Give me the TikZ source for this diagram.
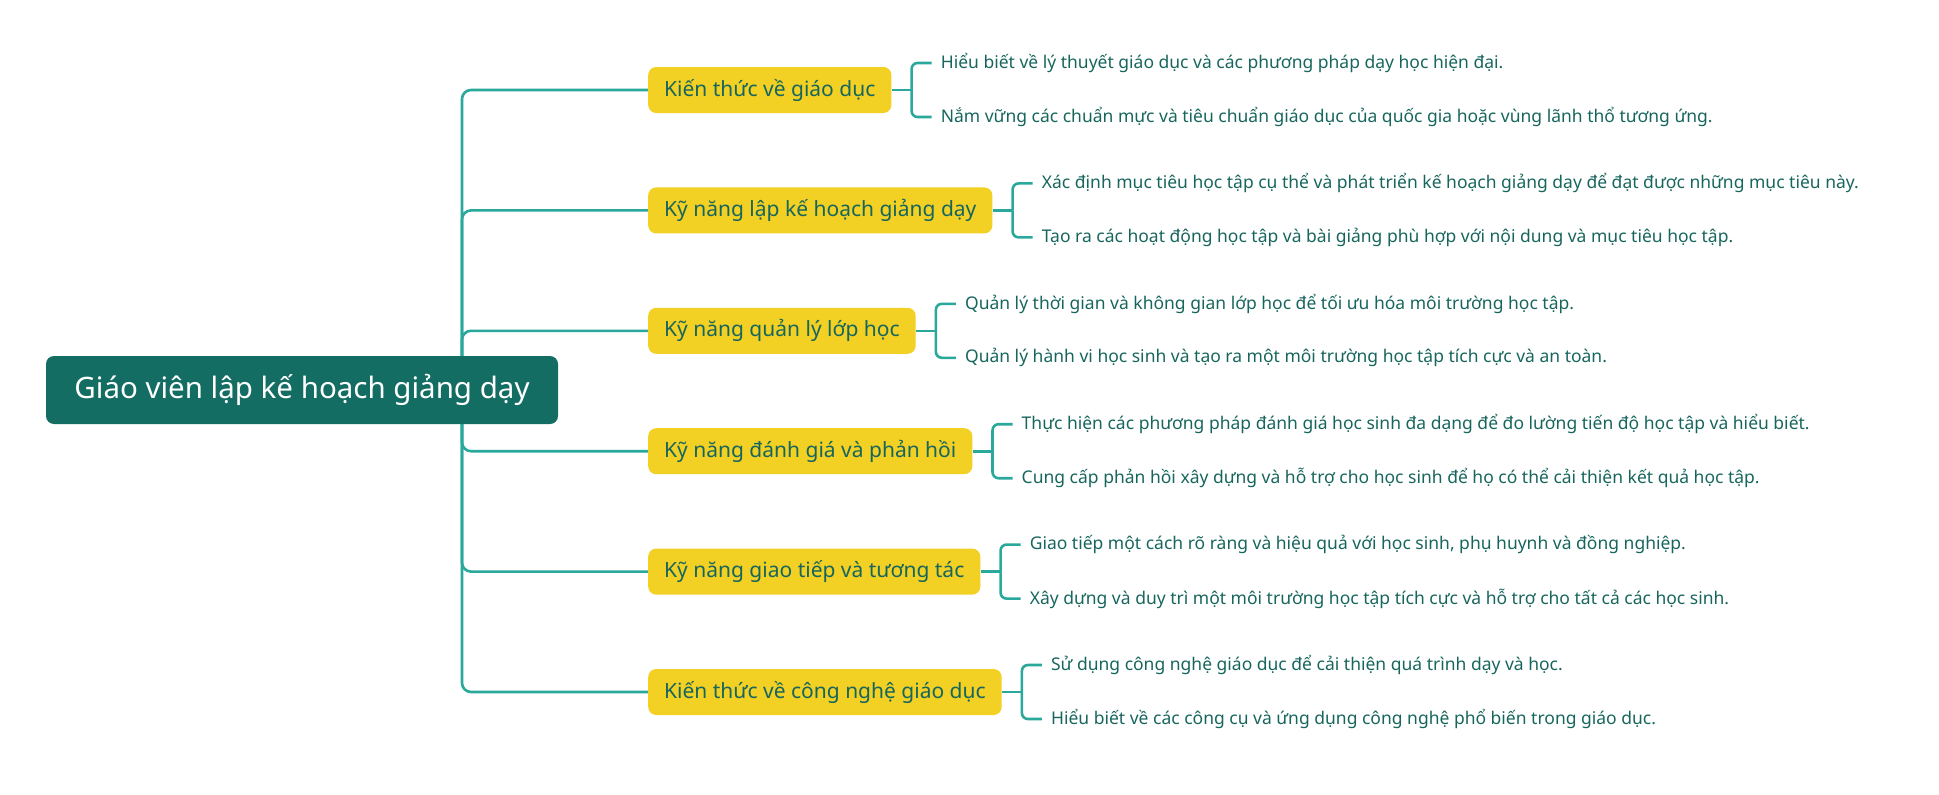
\documentclass[tikz,border=0pt]{standalone}
\usepackage{fontspec}
\setmainfont{Noto Sans}
\usepackage{xcolor}
\usetikzlibrary{positioning,backgrounds}

\definecolor{rootgreen}{HTML}{136D62}
\definecolor{boxyellow}{HTML}{F2D024}
\definecolor{linkteal}{HTML}{2BA89C}
\definecolor{inkteal}{HTML}{17665D}

\tikzset{
  rootbox/.style={draw=none, fill=rootgreen, rounded corners=8pt, text=white,
    minimum width=512pt, minimum height=68pt, font=\fontsize{29.5}{34}\selectfont},
  topicbox/.style={draw=none, fill=boxyellow, rounded corners=8pt, text=inkteal,
    minimum height=46pt, inner xsep=16pt, font=\fontsize{21}{25}\selectfont},
  leaf/.style={inner xsep=9pt, inner ysep=2pt, text=inkteal, font=\fontsize{17.5}{21}\selectfont},
  link/.style={draw=linkteal, line width=2.6pt, rounded corners=9pt},
}

\begin{document}
\begin{tikzpicture}[x=1pt, y=-1pt]
  \useasboundingbox (0,0) rectangle (1939,795);

  % root and hub of the trunk
  \node[rootbox] (root) at (302,390) {Giáo viên lập kế hoạch giảng dạy};
  \coordinate (hub) at (462,390);

  % topics
  \node[topicbox, anchor=west] (kienthuc) at (648,90) {Kiến thức về giáo dục};
  \node[topicbox, below right=74pt and 0pt of kienthuc.south west] (kehoach) {Kỹ năng lập kế hoạch giảng dạy};
  \node[topicbox, below right=74pt and 0pt of kehoach.south west] (quanly) {Kỹ năng quản lý lớp học};
  \node[topicbox, below right=74pt and 0pt of quanly.south west] (danhgia) {Kỹ năng đánh giá và phản hồi};
  \node[topicbox, below right=74pt and 0pt of danhgia.south west] (giaotiep) {Kỹ năng giao tiếp và tương tác};
  \node[topicbox, below right=74pt and 0pt of giaotiep.south west] (congnghe) {Kiến thức về công nghệ giáo dục};

  % details
  \node[leaf, right=40pt of kienthuc.east, yshift=27pt] (kienthucA) {Hiểu biết về lý thuyết giáo dục và các phương pháp dạy học hiện đại.};
  \node[leaf, right=40pt of kienthuc.east, yshift=-27pt] (kienthucB) {Nắm vững các chuẩn mực và tiêu chuẩn giáo dục của quốc gia hoặc vùng lãnh thổ tương ứng.};
  \node[leaf, right=40pt of kehoach.east, yshift=27pt] (kehoachA) {Xác định mục tiêu học tập cụ thể và phát triển kế hoạch giảng dạy để đạt được những mục tiêu này.};
  \node[leaf, right=40pt of kehoach.east, yshift=-27pt] (kehoachB) {Tạo ra các hoạt động học tập và bài giảng phù hợp với nội dung và mục tiêu học tập.};
  \node[leaf, right=40pt of quanly.east, yshift=27pt] (quanlyA) {Quản lý thời gian và không gian lớp học để tối ưu hóa môi trường học tập.};
  \node[leaf, right=40pt of quanly.east, yshift=-27pt] (quanlyB) {Quản lý hành vi học sinh và tạo ra một môi trường học tập tích cực và an toàn.};
  \node[leaf, right=40pt of danhgia.east, yshift=27pt] (danhgiaA) {Thực hiện các phương pháp đánh giá học sinh đa dạng để đo lường tiến độ học tập và hiểu biết.};
  \node[leaf, right=40pt of danhgia.east, yshift=-27pt] (danhgiaB) {Cung cấp phản hồi xây dựng và hỗ trợ cho học sinh để họ có thể cải thiện kết quả học tập.};
  \node[leaf, right=40pt of giaotiep.east, yshift=27pt] (giaotiepA) {Giao tiếp một cách rõ ràng và hiệu quả với học sinh, phụ huynh và đồng nghiệp.};
  \node[leaf, right=40pt of giaotiep.east, yshift=-27pt] (giaotiepB) {Xây dựng và duy trì một môi trường học tập tích cực và hỗ trợ cho tất cả các học sinh.};
  \node[leaf, right=40pt of congnghe.east, yshift=27pt] (congngheA) {Sử dụng công nghệ giáo dục để cải thiện quá trình dạy và học.};
  \node[leaf, right=40pt of congnghe.east, yshift=-27pt] (congngheB) {Hiểu biết về các công cụ và ứng dụng công nghệ phổ biến trong giáo dục.};

  \begin{scope}[on background layer]
    % trunk
    \draw[link] (hub) |- (kienthuc.west);
    \draw[link] (hub) |- (kehoach.west);
    \draw[link] (hub) |- (quanly.west);
    \draw[link] (hub) |- (danhgia.west);
    \draw[link] (hub) |- (giaotiep.west);
    \draw[link] (hub) |- (congnghe.west);
    % brackets
    \draw[link] (kienthuc.east) -- ++(20,0) coordinate (kienthucK);
    \draw[link, rounded corners=6pt] (kienthucK) |- (kienthucA.west);
    \draw[link, rounded corners=6pt] (kienthucK) |- (kienthucB.west);
    \draw[link] (kehoach.east) -- ++(20,0) coordinate (kehoachK);
    \draw[link, rounded corners=6pt] (kehoachK) |- (kehoachA.west);
    \draw[link, rounded corners=6pt] (kehoachK) |- (kehoachB.west);
    \draw[link] (quanly.east) -- ++(20,0) coordinate (quanlyK);
    \draw[link, rounded corners=6pt] (quanlyK) |- (quanlyA.west);
    \draw[link, rounded corners=6pt] (quanlyK) |- (quanlyB.west);
    \draw[link] (danhgia.east) -- ++(20,0) coordinate (danhgiaK);
    \draw[link, rounded corners=6pt] (danhgiaK) |- (danhgiaA.west);
    \draw[link, rounded corners=6pt] (danhgiaK) |- (danhgiaB.west);
    \draw[link] (giaotiep.east) -- ++(20,0) coordinate (giaotiepK);
    \draw[link, rounded corners=6pt] (giaotiepK) |- (giaotiepA.west);
    \draw[link, rounded corners=6pt] (giaotiepK) |- (giaotiepB.west);
    \draw[link] (congnghe.east) -- ++(20,0) coordinate (congngheK);
    \draw[link, rounded corners=6pt] (congngheK) |- (congngheA.west);
    \draw[link, rounded corners=6pt] (congngheK) |- (congngheB.west);
  \end{scope}
\end{tikzpicture}
\end{document}
